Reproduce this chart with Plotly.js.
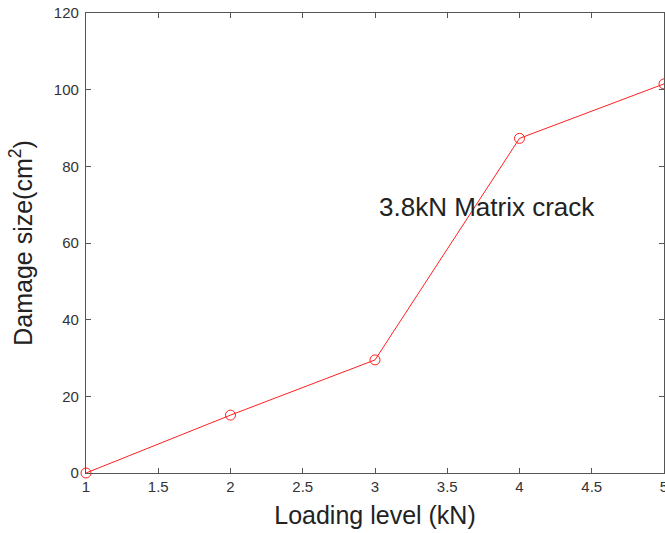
<!DOCTYPE html>
<html>
<head>
<script src="https://cdn.plot.ly/plotly-3.0.1.min.js"></script>
<style>html,body{margin:0;padding:0;background:#fff;}#chart{width:665px;height:533px;}</style>
</head>
<body>
<div id="chart"></div>
<script>
const loadingLevel = [1, 2, 3, 4, 5];
const damageSize = [0, 15.1, 29.5, 87.3, 101.5];
const xTicks = [1, 1.5, 2, 2.5, 3, 3.5, 4, 4.5, 5];
const xTickLabels = ['1', '1.5', '2', '2.5', '3', '3.5', '4', '4.5', '5'];
const yTicks = [0, 20, 40, 60, 80, 100, 120];
const annotationText = '3.8kN Matrix crack';

const FONT = 'Liberation Sans, Arial, sans-serif';
const axisCommon = {
  showgrid: false, zeroline: false, showline: true, linecolor: '#555', linewidth: 1.2,
  mirror: 'ticks', ticks: 'inside', ticklen: 5, tickcolor: '#555', tickwidth: 1,
  ticklabeloverflow: 'allow',
  tickfont: {family: FONT, size: 15, color: '#333'}
};

Plotly.newPlot('chart', [{
  x: loadingLevel, y: damageSize, type: 'scatter', mode: 'lines+markers',
  line: {color: '#ff2020', width: 1},
  marker: {symbol: 'circle-open', size: 10, color: '#ff2020', line: {width: 1}},
  cliponaxis: false
}], {
  width: 665, height: 533,
  margin: {l: 86, r: 1, t: 13, b: 60},
  paper_bgcolor: '#fff', plot_bgcolor: '#fff',
  showlegend: false,
  xaxis: Object.assign({}, axisCommon, {
    range: [1, 5], tickvals: xTicks, ticktext: xTickLabels,
    title: {text: 'Loading level (kN)', font: {family: FONT, size: 25, color: '#222'}, standoff: 12}
  }),
  yaxis: Object.assign({}, axisCommon, {
    range: [0, 120], tickvals: yTicks, ticklabelstandoff: 3,
    title: {text: 'Damage size(cm<sup>2</sup>)', font: {family: FONT, size: 25, color: '#222'}, standoff: 14}
  }),
  annotations: [{
    x: 3.775, y: 69.4, xref: 'x', yref: 'y', text: annotationText, showarrow: false,
    font: {family: FONT, size: 26, color: '#222'}
  }]
}, {displayModeBar: false});
</script>
</body>
</html>
